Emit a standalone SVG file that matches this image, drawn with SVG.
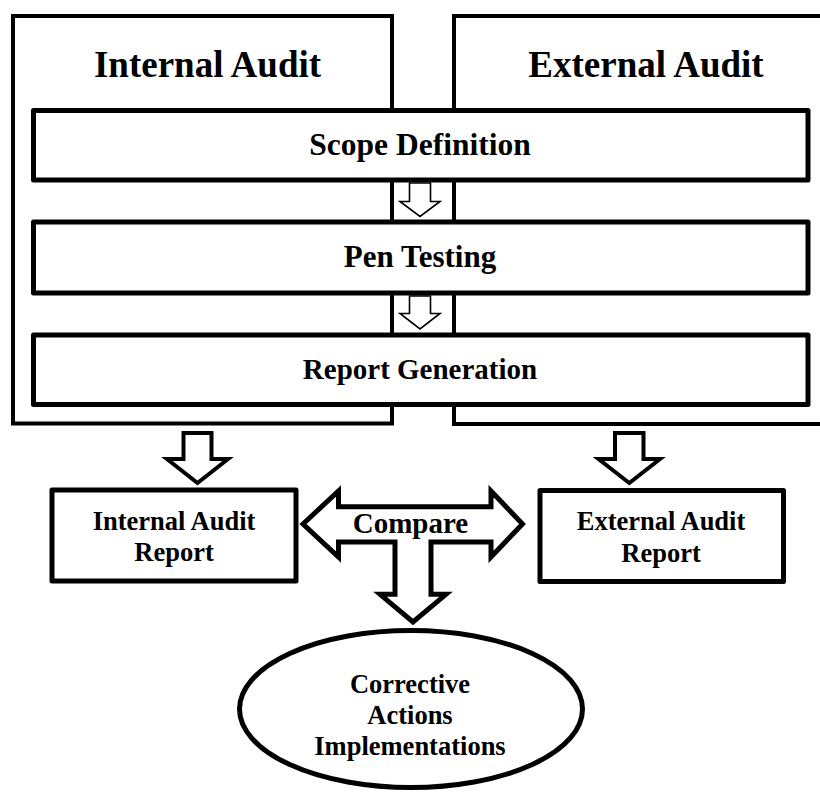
<svg xmlns="http://www.w3.org/2000/svg" width="820" height="792" viewBox="0 0 820 792">
  <style>
    .bg { fill: #ffffff; }
    .lane { fill: #ffffff; stroke: #000000; stroke-width: 4; }
    .step { fill: #ffffff; stroke: #000000; stroke-width: 5; stroke-linejoin: round; }
    .flow-sm { fill: #ffffff; stroke: #000000; stroke-width: 1.6; stroke-linejoin: miter; }
    .flow-lg { fill: #ffffff; stroke: #000000; stroke-width: 4; stroke-linejoin: miter; }
    .flow-xl { fill: #ffffff; stroke: #000000; stroke-width: 5; stroke-linejoin: miter; }
    text { font-family: "Liberation Serif", "Times New Roman", serif; font-weight: bold; fill: #000000; text-anchor: middle; }
    .t-lane { font-size: 37px; }
    .t-step { font-size: 31.5px; }
    .t-node { font-size: 26.5px; }
    .t-cmp { font-size: 29px; }
  </style>

  <rect class="bg" x="0" y="0" width="820" height="792"/>

  <!-- swimlane containers -->
  <g id="lane-internal">
    <rect class="lane" x="13" y="16" width="379" height="407.5"/>
    <text class="t-lane" x="207.5" y="77">Internal Audit</text>
  </g>
  <g id="lane-external">
    <rect class="lane" x="454" y="16" width="380" height="408"/>
    <text class="t-lane" x="646" y="77">External Audit</text>
  </g>

  <!-- shared process steps -->
  <g id="step-scope">
    <rect class="step" x="33.5" y="110.5" width="774.5" height="69.5"/>
    <text class="t-step" x="420" y="155">Scope Definition</text>
  </g>
  <g id="step-pentest">
    <rect class="step" x="33.5" y="222" width="774.5" height="71"/>
    <text class="t-step" x="420" y="266.5" style="font-size:31px">Pen Testing</text>
  </g>
  <g id="step-report">
    <rect class="step" x="33.5" y="335" width="774.5" height="69.5"/>
    <text class="t-step" x="420" y="378.5" style="font-size:29px">Report Generation</text>
  </g>

  <!-- output reports -->
  <g id="report-internal">
    <rect class="step" x="52" y="490" width="244" height="91"/>
    <text class="t-node" x="174" y="529.5">Internal Audit</text>
    <text class="t-node" x="174" y="560.5">Report</text>
  </g>
  <g id="report-external">
    <rect class="step" x="540" y="490.5" width="243.5" height="91"/>
    <text class="t-node" x="661" y="530">External Audit</text>
    <text class="t-node" x="661" y="561.5">Report</text>
  </g>

  <!-- final outcome -->
  <g id="corrective-actions">
    <ellipse class="step" cx="411" cy="709" rx="171.5" ry="78.5"/>
    <text class="t-node" x="410" y="692.7">Corrective</text>
    <text class="t-node" x="410" y="723.5">Actions</text>
    <text class="t-node" x="410" y="755">Implementations</text>
  </g>

  <!-- block arrows -->
  <g id="connectors">
    <path class="flow-sm" d="M409.5,183 L430.5,183 L430.5,201.5 L440,201.5 L420,216.5 L400,201.5 L409.5,201.5 Z"/>
    <path class="flow-sm" d="M409.5,296 L430.5,296 L430.5,313.5 L440,313.5 L420,329 L400,313.5 L409.5,313.5 Z"/>
    <path class="flow-lg" d="M183.5,433 L211.5,433 L211.5,459 L228,459 L197.5,483 L167,459 L183.5,459 Z"/>
    <path class="flow-lg" d="M615,433 L643.5,433 L643.5,459 L660,459 L629.3,483 L598.5,459 L615,459 Z"/>
    <path class="flow-xl" d="M303,524 L338.5,491 L338.5,506.7 L491,506.7 L491,491 L522.5,524 L491,557 L491,542 L431,542 L431,594.3 L446,594.3 L413,622 L380,594.3 L395,594.3 L395,542 L338.5,542 L338.5,557 Z"/>
    <text class="t-cmp" x="410.5" y="532.7">Compare</text>
  </g>
</svg>
